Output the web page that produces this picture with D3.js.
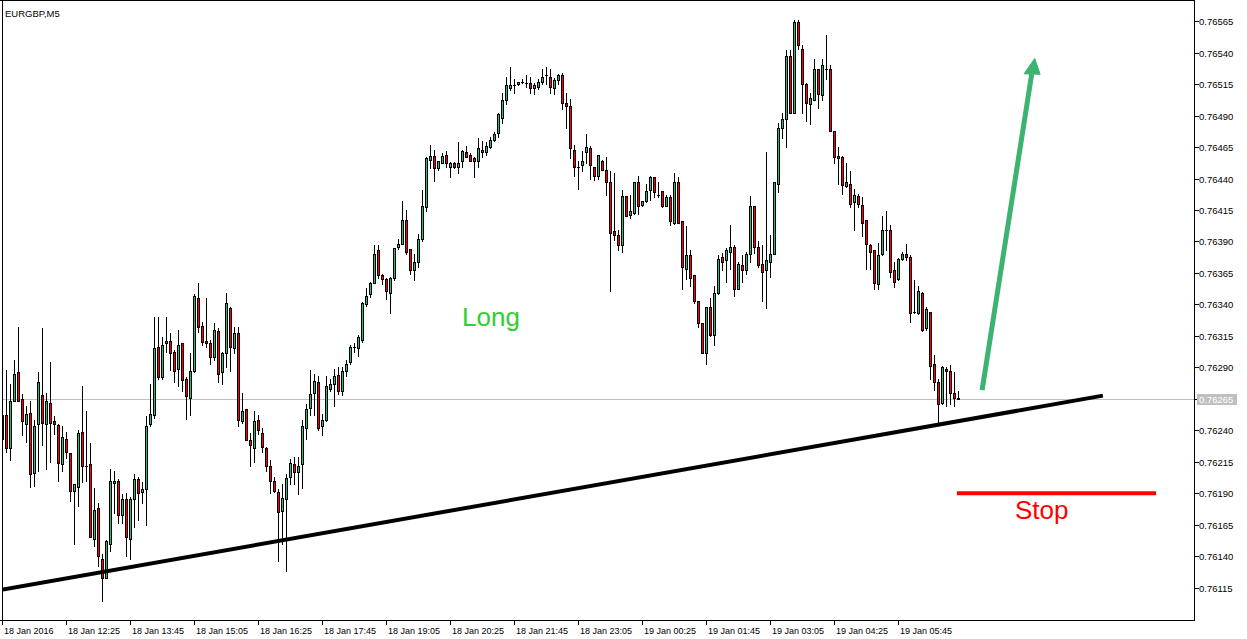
<!DOCTYPE html>
<html><head><meta charset="utf-8">
<script src="https://cdn.jsdelivr.net/npm/d3@7"></script>
<style>
html,body{margin:0;padding:0;background:#fff;overflow:hidden}
svg{display:block}
text{font-family:"Liberation Sans",Arial,sans-serif}
</style>
</head><body><svg id="chart" width="1247" height="639"></svg>
<script>
const symbolTitle = "EURGBP,M5";
const opens = [0.76252,0.76252,0.76226,0.76263,0.76286,0.76265,0.76245,0.76254,0.76206,0.76245,0.76268,0.76245,0.76262,0.76247,0.76244,0.76213,0.76233,0.76222,0.76192,0.76195,0.76239,0.76212,0.76213,0.76154,0.76178,0.76138,0.76123,0.76150,0.76198,0.76200,0.76173,0.76185,0.76154,0.76185,0.76201,0.76191,0.76193,0.76245,0.76252,0.76306,
0.76282,0.76309,0.76311,0.76302,0.76289,0.76309,0.76281,0.76266,0.76287,0.76345,0.76323,0.76311,0.76309,0.76298,0.76319,0.76286,0.76301,0.76337,0.76305,0.76317,0.76247,0.76257,0.76232,0.76226,0.76248,0.76238,0.76226,0.76212,0.76200,0.76191,
0.76176,0.76185,0.76203,0.76213,0.76207,0.76213,0.76242,0.76258,0.76270,0.76278,0.76243,0.76248,0.76273,0.76277,0.76284,0.76271,0.76287,0.76294,0.76306,0.76305,0.76312,0.76340,0.76348,0.76357,0.76383,0.76363,0.76360,0.76349,0.76361,0.76386,
0.76388,0.76407,0.76384,0.76367,0.76374,0.76392,0.76417,0.76455,0.76458,0.76448,0.76452,0.76459,0.76449,0.76452,0.76449,0.76454,0.76461,0.76459,0.76456,0.76454,0.76463,0.76461,0.76465,0.76471,0.76476,0.76488,0.76502,0.76512,0.76514,0.76515,
0.76517,0.76516,0.76516,0.76512,0.76513,0.76517,0.76522,0.76521,0.76512,0.76518,0.76522,0.76500,0.76498,0.76463,0.76449,0.76451,0.76461,0.76464,0.76449,0.76442,0.76454,0.76447,0.76437,0.76398,0.76395,0.76387,0.76426,0.76411,0.76413,0.76437,
0.76419,0.76422,0.76431,0.76441,0.76427,0.76430,0.76418,0.76425,0.76405,0.76437,0.76406,0.76368,0.76379,0.76363,0.76343,0.76325,0.76301,0.76338,0.76316,0.76349,0.76378,0.76375,0.76382,0.76386,0.76352,0.76371,0.76367,0.76380,0.76418,0.76386,
0.76372,0.76367,0.76374,0.76380,0.76436,0.76480,0.76487,0.76537,0.76492,0.76564,0.76543,0.76515,0.76499,0.76502,0.76527,0.76506,0.76527,0.76527,0.76478,0.76456,0.76457,0.76434,0.76436,0.76421,0.76426,0.76419,0.76407,0.76387,0.76383,0.76356,
0.76380,0.76399,0.76399,0.76367,0.76360,0.76376,0.76380,0.76378,0.76334,0.76333,0.76349,0.76321,0.76334,0.76293,0.76278,0.76262,0.76289,0.76287,0.76270,0.76266];
const highs = [0.76255,0.76288,0.76277,0.76296,0.76322,0.76269,0.76259,0.76263,0.76248,0.76286,0.76321,0.76270,0.76294,0.76251,0.76245,0.76243,0.76239,0.76222,0.76197,0.76240,0.76275,0.76255,0.76230,0.76194,0.76182,0.76142,0.76153,0.76209,0.76208,0.76201,0.76189,0.76190,0.76187,0.76205,0.76203,0.76199,0.76251,0.76277,0.76330,0.76330,
0.76314,0.76330,0.76317,0.76304,0.76320,0.76309,0.76282,0.76301,0.76348,0.76357,0.76326,0.76345,0.76312,0.76325,0.76321,0.76302,0.76349,0.76338,0.76322,0.76322,0.76270,0.76257,0.76238,0.76255,0.76252,0.76242,0.76227,0.76216,0.76203,0.76193,
0.76197,0.76205,0.76217,0.76219,0.76219,0.76248,0.76261,0.76288,0.76285,0.76283,0.76253,0.76283,0.76281,0.76289,0.76290,0.76290,0.76296,0.76308,0.76309,0.76316,0.76342,0.76353,0.76358,0.76387,0.76387,0.76364,0.76361,0.76362,0.76385,0.76392,
0.76422,0.76415,0.76384,0.76380,0.76396,0.76431,0.76457,0.76467,0.76463,0.76454,0.76460,0.76462,0.76453,0.76453,0.76469,0.76463,0.76466,0.76460,0.76457,0.76472,0.76470,0.76469,0.76473,0.76477,0.76492,0.76508,0.76521,0.76529,0.76519,0.76517,
0.76519,0.76522,0.76521,0.76516,0.76519,0.76527,0.76529,0.76527,0.76520,0.76523,0.76524,0.76508,0.76503,0.76467,0.76454,0.76462,0.76475,0.76466,0.76449,0.76459,0.76455,0.76457,0.76446,0.76444,0.76399,0.76431,0.76426,0.76427,0.76437,0.76442,
0.76422,0.76436,0.76442,0.76441,0.76437,0.76430,0.76427,0.76427,0.76444,0.76441,0.76406,0.76402,0.76383,0.76363,0.76343,0.76325,0.76338,0.76345,0.76355,0.76379,0.76381,0.76385,0.76403,0.76387,0.76374,0.76379,0.76382,0.76426,0.76418,0.76390,
0.76387,0.76461,0.76395,0.76437,0.76484,0.76492,0.76542,0.76542,0.76566,0.76566,0.76546,0.76516,0.76508,0.76535,0.76527,0.76535,0.76554,0.76530,0.76478,0.76465,0.76458,0.76452,0.76446,0.76432,0.76428,0.76425,0.76407,0.76388,0.76383,0.76389,
0.76410,0.76414,0.76403,0.76374,0.76377,0.76382,0.76388,0.76379,0.76359,0.76355,0.76350,0.76338,0.76334,0.76300,0.76281,0.76291,0.76290,0.76292,0.76286,0.76271];
const lows = [0.76232,0.76223,0.76216,0.76263,0.76263,0.76236,0.76231,0.76195,0.76196,0.76208,0.76228,0.76209,0.76215,0.76237,0.76200,0.76208,0.76218,0.76184,0.76150,0.76180,0.76199,0.76200,0.76155,0.76148,0.76132,0.76104,0.76123,0.76144,0.76174,0.76166,0.76166,0.76140,0.76138,0.76163,0.76169,0.76182,0.76165,0.76243,0.76250,0.76281,
0.76281,0.76302,0.76288,0.76278,0.76275,0.76271,0.76249,0.76252,0.76286,0.76318,0.76308,0.76306,0.76293,0.76296,0.76278,0.76277,0.76290,0.76287,0.76301,0.76243,0.76246,0.76232,0.76212,0.76215,0.76237,0.76223,0.76208,0.76190,0.76191,0.76136,
0.76150,0.76128,0.76197,0.76197,0.76189,0.76194,0.76233,0.76252,0.76252,0.76240,0.76236,0.76247,0.76271,0.76259,0.76269,0.76268,0.76283,0.76293,0.76302,0.76299,0.76310,0.76339,0.76346,0.76357,0.76361,0.76356,0.76344,0.76333,0.76359,0.76384,
0.76388,0.76380,0.76364,0.76359,0.76370,0.76390,0.76414,0.76448,0.76438,0.76447,0.76452,0.76449,0.76441,0.76448,0.76444,0.76449,0.76457,0.76454,0.76441,0.76449,0.76457,0.76459,0.76464,0.76470,0.76473,0.76484,0.76499,0.76510,0.76508,0.76514,
0.76516,0.76513,0.76508,0.76507,0.76511,0.76515,0.76515,0.76508,0.76507,0.76515,0.76495,0.76480,0.76456,0.76442,0.76432,0.76446,0.76452,0.76440,0.76439,0.76440,0.76447,0.76427,0.76351,0.76391,0.76383,0.76382,0.76410,0.76409,0.76412,0.76412,
0.76418,0.76421,0.76423,0.76425,0.76425,0.76417,0.76418,0.76403,0.76404,0.76405,0.76352,0.76360,0.76355,0.76341,0.76322,0.76301,0.76293,0.76315,0.76308,0.76348,0.76367,0.76358,0.76368,0.76347,0.76352,0.76358,0.76364,0.76374,0.76381,0.76370,
0.76343,0.76337,0.76362,0.76380,0.76429,0.76472,0.76465,0.76492,0.76492,0.76543,0.76492,0.76486,0.76483,0.76502,0.76496,0.76502,0.76519,0.76478,0.76452,0.76436,0.76428,0.76433,0.76417,0.76399,0.76417,0.76394,0.76368,0.76368,0.76352,0.76352,
0.76379,0.76383,0.76362,0.76354,0.76359,0.76375,0.76375,0.76326,0.76333,0.76332,0.76319,0.76320,0.76281,0.76272,0.76246,0.76261,0.76259,0.76261,0.76259,0.76265];
const closes = [0.76233,0.76226,0.76263,0.76285,0.76263,0.76247,0.76253,0.76205,0.76243,0.76278,0.76246,0.76263,0.76246,0.76245,0.76214,0.76235,0.76223,0.76192,0.76197,0.76238,0.76212,0.76212,0.76155,0.76177,0.76140,0.76123,0.76152,0.76200,0.76200,0.76173,0.76185,0.76155,0.76185,0.76201,0.76190,0.76193,0.76243,0.76253,0.76305,0.76282,
0.76308,0.76311,0.76301,0.76287,0.76308,0.76280,0.76267,0.76287,0.76347,0.76322,0.76310,0.76309,0.76298,0.76320,0.76285,0.76301,0.76341,0.76306,0.76317,0.76248,0.76255,0.76232,0.76228,0.76247,0.76240,0.76227,0.76212,0.76200,0.76192,0.76175,
0.76186,0.76202,0.76214,0.76207,0.76212,0.76243,0.76257,0.76269,0.76279,0.76242,0.76248,0.76275,0.76277,0.76283,0.76271,0.76287,0.76293,0.76306,0.76306,0.76314,0.76341,0.76347,0.76357,0.76380,0.76363,0.76360,0.76351,0.76361,0.76385,0.76388,
0.76407,0.76382,0.76367,0.76374,0.76392,0.76418,0.76456,0.76458,0.76448,0.76454,0.76458,0.76452,0.76452,0.76449,0.76452,0.76462,0.76457,0.76454,0.76454,0.76464,0.76461,0.76466,0.76471,0.76475,0.76491,0.76502,0.76514,0.76514,0.76514,0.76517,
0.76517,0.76516,0.76512,0.76514,0.76517,0.76521,0.76522,0.76513,0.76518,0.76522,0.76500,0.76498,0.76464,0.76449,0.76449,0.76454,0.76465,0.76451,0.76442,0.76459,0.76447,0.76437,0.76397,0.76395,0.76387,0.76426,0.76410,0.76414,0.76437,0.76418,
0.76422,0.76430,0.76441,0.76429,0.76427,0.76418,0.76425,0.76406,0.76437,0.76405,0.76370,0.76379,0.76361,0.76343,0.76325,0.76301,0.76338,0.76316,0.76349,0.76376,0.76374,0.76383,0.76386,0.76352,0.76372,0.76367,0.76380,0.76418,0.76386,0.76371,
0.76366,0.76375,0.76380,0.76437,0.76480,0.76487,0.76537,0.76492,0.76564,0.76546,0.76515,0.76500,0.76504,0.76527,0.76507,0.76530,0.76527,0.76478,0.76457,0.76458,0.76435,0.76437,0.76420,0.76427,0.76420,0.76405,0.76388,0.76382,0.76357,0.76379,
0.76399,0.76399,0.76366,0.76358,0.76376,0.76380,0.76378,0.76333,0.76334,0.76351,0.76320,0.76336,0.76291,0.76278,0.76261,0.76290,0.76287,0.76270,0.76266,0.76265];
const timeLabels = ["18 Jan 2016","18 Jan 12:25","18 Jan 13:45","18 Jan 15:05","18 Jan 16:25","18 Jan 17:45","18 Jan 19:05","18 Jan 20:25","18 Jan 21:45","18 Jan 23:05","19 Jan 00:25","19 Jan 01:45","19 Jan 03:05","19 Jan 04:25","19 Jan 05:45"];
const timeLabelBars = [0,16,32,48,64,80,96,112,128,144,160,176,192,208,224];
const priceTicks = [0.76565,0.76540,0.76515,0.76490,0.76465,0.76440,0.76415,0.76390,0.76365,0.76340,0.76315,0.76290,0.76265,0.76240,0.76215,0.76190,0.76165,0.76140,0.76115];
const currentPrice = 0.76265;
const trendLine = [[0.1,0.761134],[275.1,0.762675]];
const stopLine = [[238.6,0.76190],[288.4,0.76190]];
const arrowPath = [[244.9,0.762719],[257.3,0.765230]];
const arrowHead = [[255.4,0.765232],[258.05,0.765354],[259.4,0.765228]];
const notes = [{text:"Long",bar:114.9,price:0.763226,color:"#32cd32"},{text:"Stop",bar:253.1,price:0.761697,color:"#ff0000"}];

const W = 1247, H = 639;
const plotRight = 1194.5, plotBottom = 620.5;
const upColor = "#3cb371", downColor = "#ff0000";

const svg = d3.select("#chart");
svg.append("rect").attr("width",W).attr("height",H).attr("fill","#fff");

const x = d3.scaleLinear().domain([0,239]).range([2.5,958.5]);
const y = d3.scaleLinear().domain([0.76115,0.76565]).range([587.6,21.2]);
const py = v => Math.round(y(v));

svg.append("defs").append("clipPath").attr("id","plot")
  .append("rect").attr("x",3).attr("y",2).attr("width",plotRight-3).attr("height",plotBottom-2);

const plot = svg.append("g").attr("clip-path","url(#plot)");

// current price line
const cy = py(currentPrice) + 0.5;
plot.append("line").attr("x1",0).attr("x2",plotRight).attr("y1",cy).attr("y2",cy)
  .attr("stroke","#c0c0c0").attr("stroke-width",1);

// candles
const idx = d3.range(opens.length);
const cg = plot.append("g").attr("shape-rendering","crispEdges");
idx.forEach(i => {
  const xc = Math.round(x(i) - 0.5) + 0.5;
  const yh = py(highs[i]), yl = py(lows[i]);
  const yo = py(opens[i]), yc = py(closes[i]);
  cg.append("rect").attr("x",xc-0.5).attr("y",yh).attr("width",1).attr("height",yl-yh+1).attr("fill","#000");
  const top = Math.min(yo,yc), bot = Math.max(yo,yc);
  cg.append("rect").attr("x",xc-1.5).attr("y",top).attr("width",3).attr("height",bot-top+1).attr("fill","#000");
  if (bot - top + 1 > 2) {
    cg.append("rect").attr("x",xc-0.5).attr("y",top+1).attr("width",1).attr("height",bot-top-1)
      .attr("fill", closes[i] >= opens[i] ? upColor : downColor);
  }
});

// trend line
const line = d3.line().x(d => x(d[0])).y(d => y(d[1]));
plot.append("path").attr("d",line(trendLine)).attr("stroke","#000").attr("stroke-width",4).attr("fill","none");
// stop line
plot.append("path").attr("d",line(stopLine)).attr("stroke","#ff0000").attr("stroke-width",4).attr("fill","none");
// arrow
plot.append("path").attr("d",line(arrowPath)).attr("stroke",upColor).attr("stroke-width",5).attr("fill","none");
plot.append("path").attr("d",line(arrowHead)+"Z").attr("fill",upColor).attr("stroke",upColor).attr("stroke-width",1);

// notes
notes.forEach(n => {
  plot.append("text").attr("x",x(n.bar)).attr("y",y(n.price)).attr("fill",n.color)
    .attr("font-size",26).text(n.text);
});

// frame
const fg = svg.append("g").attr("shape-rendering","crispEdges");
fg.append("line").attr("x1",2.5).attr("x2",2.5).attr("y1",0).attr("y2",plotBottom).attr("stroke","#000");
fg.append("line").attr("x1",0).attr("x2",plotRight).attr("y1",0.5).attr("y2",0.5).attr("stroke","#000");
fg.append("line").attr("x1",plotRight).attr("x2",plotRight).attr("y1",0).attr("y2",plotBottom).attr("stroke","#000");
fg.append("line").attr("x1",0).attr("x2",plotRight).attr("y1",plotBottom).attr("y2",plotBottom).attr("stroke","#000");

// title
svg.append("rect").attr("x",3).attr("y",1).attr("width",60).attr("height",20).attr("fill","#fff");
svg.append("text").attr("x",5).attr("y",17).attr("font-size",9.5).attr("fill","#000").text(symbolTitle);

// price axis
priceTicks.forEach(p => {
  const ty = py(p) + 0.5;
  fg.append("line").attr("x1",plotRight).attr("x2",plotRight+4).attr("y1",ty).attr("y2",ty).attr("stroke","#000");
  svg.append("text").attr("x",1199).attr("y",ty).attr("dy","0.35em").attr("font-size",9.5).attr("fill","#000")
    .text(d3.format(".5f")(p));
});
// current price label
svg.append("rect").attr("x",1197).attr("y",cy-5.5).attr("width",40).attr("height",11).attr("fill","#c0c0c0");
svg.append("text").attr("x",1199).attr("y",cy).attr("dy","0.35em").attr("font-size",9.5).attr("fill","#fff")
  .text(d3.format(".5f")(currentPrice));

// time axis
timeLabelBars.forEach((b,k) => {
  const tx = Math.round(x(b) - 0.5) + 0.5;
  fg.append("line").attr("x1",tx).attr("x2",tx).attr("y1",plotBottom).attr("y2",plotBottom+4).attr("stroke","#000");
  svg.append("text").attr("x",tx+1.5).attr("y",634).attr("font-size",9).attr("fill","#000").text(timeLabels[k]);
});
</script>
</body></html>
